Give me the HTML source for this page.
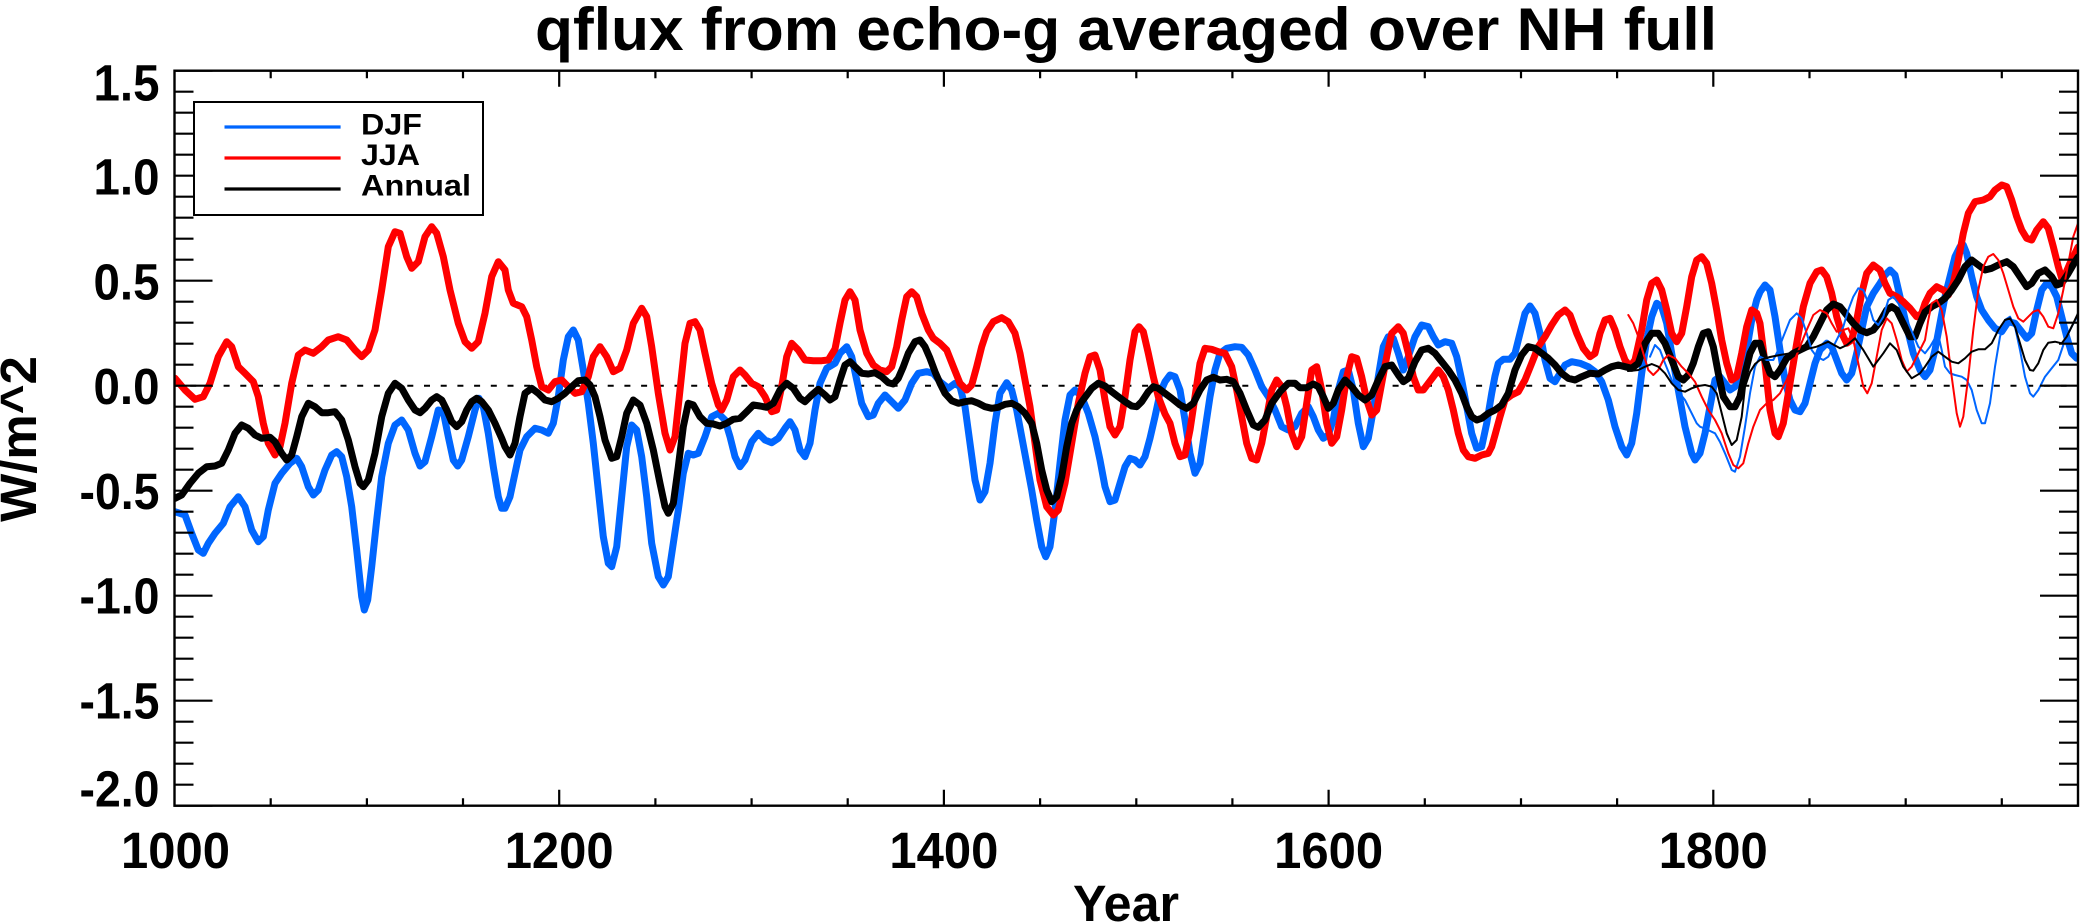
<!DOCTYPE html>
<html><head><meta charset="utf-8"><style>
html,body{margin:0;padding:0;background:#fff;}
svg{display:block;}
text{font-family:"Liberation Sans",Arial,sans-serif;font-weight:bold;fill:#000;}
</style></head><body>
<svg width="2081" height="923" viewBox="0 0 2081 923" xmlns="http://www.w3.org/2000/svg">
<rect x="0" y="0" width="2081" height="923" fill="#fff"/>
<defs><clipPath id="pc"><rect x="174.5" y="70.7" width="1903.5" height="735"/></clipPath></defs>

<!-- title -->
<text x="535" y="50" font-size="60" textLength="1182" lengthAdjust="spacingAndGlyphs">qflux from echo-g averaged over NH full</text>

<!-- zero dashed line -->
<line x1="174.5" y1="385.7" x2="2078" y2="385.7" stroke="#000" stroke-width="2" stroke-dasharray="6,10.7" stroke-dashoffset="1"/>

<g clip-path="url(#pc)" fill="none" stroke-linejoin="round" stroke-linecap="round">
<polyline stroke="#0066ff" stroke-width="7" points="175,511.7 185,515 191.7,533.3 198.3,550 203.3,553.3 208.3,543.3 215,533.3 223.3,523.3 230,506.7 238.3,496.7 245,506.7 251.7,530 258.3,541.7 263.3,536.7 268.3,510 275,483.3 281.7,473.3 290,463.3 296.7,458.3 301.7,466.7 308.3,486.7 313.3,495 318.3,490 325,470 331.7,455 336.7,451.7 341.7,456.7 346.7,476.7 351.7,506.7 356.7,550 361.7,596.7 364.3,610 367.7,600 371.7,566.7 376.7,520 381.7,476.7 388.3,443.3 395,425 401.7,420 408.3,430 415,453.3 420,466 425,461.7 431.7,436.7 438.3,410 443.3,411.7 448.3,436.7 453.3,460 457.7,466 461.7,460 468.3,436.7 475,410 479,398.3 483.3,406.7 488.3,433.3 493.3,466.7 498.3,496.7 501.7,508.3 505,508.3 510,496.7 515,473.3 520,450 526.7,436.7 535,428.3 541.7,430 548.3,433.3 553.3,423.3 558.3,396.7 563.3,360 568.3,336.7 573.3,330 578.3,340 583.3,370 588.3,403.3 593.3,443.3 598.3,490 603.3,536.7 608.3,563.3 611.7,566.7 616.7,546.7 621.7,496.7 626.7,446.7 631.7,425 636.7,430 641.7,456.7 646.7,496.7 651.7,543.3 658.3,576.7 663.3,585 668.3,576.7 673.3,543.3 678.3,510 683.3,473.3 688.3,453.3 693.3,455 698.3,453.3 705,436.7 711.7,416.7 718.3,413.3 725,420 730,436.7 735,456.7 740,466.7 745,460 751.7,441.7 758.3,433.3 765,440 771.7,442.7 778.3,438.3 785,428.3 790,421.7 795,430 800,450 805,456.7 810,443.3 815,410 820,383.3 826.7,368.3 835,363.3 840,353.3 846.7,346.7 851.7,356.7 856.7,380 861.7,403.3 868.3,416.7 873.3,415 878.3,403.3 885,395 891.7,401.7 898.3,408.3 905,400 911.7,383.3 918.3,373.3 926.7,371.7 933.3,373.3 940,381.7 948.3,388.3 955,383.3 960,386.7 965,406.7 970,443.3 975,480 980,500 985,491.7 990,463.3 995,423.3 1000,393.3 1006.7,382.7 1011.7,390 1016.7,410 1021.7,436.7 1026.7,463.3 1031.7,490 1036.7,520 1041.7,546.7 1045.7,556.7 1050,546.7 1055,510 1060,463.3 1065,420 1070,395 1075,390 1081.7,396.7 1088.3,413.3 1095,436.7 1100,460 1105,486.7 1110,501.7 1115,500 1120,483.3 1125,466.7 1130,458.3 1135,460 1140,465 1145,456.7 1150,438.3 1155,416.7 1160,393.3 1165,381.7 1170,375 1175,376.7 1180,390 1185,420 1190,453.3 1195,473.3 1200,463.3 1205,430 1210,396.7 1215,370 1220,353.3 1226.7,348.3 1235,346.7 1241.7,347.3 1248.3,355 1255,370 1261.7,386.7 1268.3,396.7 1275,410 1281.7,426.7 1288.3,430 1295,426.7 1301.7,413.3 1308.3,406.7 1313.3,416.7 1318.3,430 1323.3,438.3 1328.3,435 1333.3,420 1338.3,390 1343.3,371.7 1348.3,370 1353.3,390 1358.3,423.3 1363.3,446.7 1368.3,438.3 1373.3,410 1378.3,376.7 1383.3,346.7 1388.3,336.7 1393.3,338.3 1398.3,353.3 1403.3,370 1408.3,356.7 1415,336.7 1421.7,325 1428.3,326.7 1433.3,336.7 1438.3,345 1445,341.7 1451.7,343.3 1456.7,356.7 1461.7,380 1466.7,406.7 1471.7,433.3 1476.7,448.3 1481.7,446.7 1486.7,423.3 1491.7,393.3 1495,376 1498.3,363.3 1503.3,359.3 1510,359.3 1515,353.3 1520,333.3 1525,313.3 1530,306 1535,313.3 1540,333.3 1545,360 1550,378.3 1555,381.7 1560,373.3 1565,365 1571.7,361.7 1580,363.3 1588.3,366.7 1595,371.7 1601.7,381.7 1608.3,400 1615,426.7 1621.7,446.7 1626.7,455 1631.7,443.3 1636.7,413.3 1641.7,373.3 1646.7,340 1651.7,316.7 1656.7,303.3 1661.7,306.7 1666.7,323.3 1671.7,353.3 1678.3,390 1685,426.7 1691.7,453.3 1695,460 1700,453.3 1705,433.3 1710,406.7 1715,380 1720,376.7 1725,383.3 1730,390 1735,386.7 1741.7,373.3 1746.7,350 1751.7,320 1756.7,300 1760,292 1765,285 1770,290 1775,316.7 1780,350 1785,380 1790,400 1795,410 1800,411.7 1805,403.3 1810,383.3 1815,363.3 1820,350 1826.7,343.3 1831.7,346.7 1836.7,360 1841.7,373.3 1846.7,380 1851.7,373.3 1856.7,353.3 1861.7,330 1866.7,306.7 1873.3,293.3 1880,283.3 1885,275 1890,270 1895,275 1900,296.7 1906.7,326.7 1913.3,353.3 1920,370 1925,376.7 1930,370 1935,350 1940,323.3 1945,296.7 1950,276.7 1955,256.7 1960,246.7 1963.3,245 1966.7,253.3 1971.7,276.7 1976.7,296.7 1981.7,310 1988.3,320 1995,328.3 2001.7,331.7 2008.3,321.7 2015,323.3 2021.7,331.7 2026.7,338.3 2031.7,333.3 2036.7,310 2041.7,290 2046.7,283.3 2051.7,286.7 2056.7,296.7 2061.7,316.7 2066.7,336.7 2071.7,353.3 2076.7,358.3 2078,357"/>
<polyline stroke="#ff0000" stroke-width="7" points="175,378.3 185,390 195,399.3 203.3,396.7 210,383.3 218.3,356.7 226.7,341.7 231.7,346.7 238.3,366.7 245,373.3 253.3,381.7 258.3,396.7 263.3,423.3 268.3,443.3 275,455 280,446.7 285,423.3 291.7,383.3 298.3,355 305,350 313.3,353.3 321.7,346.7 328.3,340 338.3,336.7 346.7,340 355,350 361.7,356.7 368.3,350 375,330 381.7,290 388.3,246.7 395,231.7 400,233.3 406.7,256.7 411.7,268.3 418.3,261.7 425,236.7 431.7,226.7 436.7,233.3 443.3,256.7 450,290 458.3,323.3 465,341.7 471.7,348.3 478.3,341.7 485,313.3 491.7,276.7 498.3,261.7 505,270 508.3,290 513.3,303.3 521.7,306.7 526.7,316.7 531.7,340 536.7,366.7 541.7,386.7 548.3,390 555,381.7 561.7,380 568.3,386.7 575,393.3 581.7,391.7 588.3,376.7 593.3,356.7 600,346.7 606.7,356.7 613.3,371.7 620,368.3 626.7,350 633.3,323.3 641.7,308.3 646.7,316.7 651.7,346.7 658.3,393.3 665,433.3 670,450 675,436.7 680,390 685,343.3 690,323.3 695,321.7 700,330 705,353.3 711.7,383.3 718.3,405 721.7,410 726.7,400 733.3,376.7 740,370 745,375 751.7,383.3 758.3,386.7 765,396.7 771.7,411.7 776.7,410 781.7,386.7 786.7,356.7 791.7,343.3 798.3,350 805,360 813.3,360.7 821.7,360.7 828.3,360 835,349 840,323.3 845,300 850,291.7 855,300 860,330 866.7,353.3 873.3,365 880,370 886.7,371.7 891.7,366.7 896.7,346.7 901.7,320 906.7,296.7 911.7,291.7 916.7,296.7 921.7,313.3 928.3,330 933.3,338.3 940,343.3 946.7,350 953.3,366.7 960,383.3 966.7,390 971.7,385 976.7,366.7 981.7,346.7 986.7,331.7 993.3,321.7 1001.7,317.7 1008.3,321.7 1015,333.3 1020,353.3 1025,380 1030,406.7 1035,443.3 1040,480 1046.7,506.7 1053.3,515 1058.3,510 1065,483.3 1071.7,443.3 1078.3,403.3 1085,373.3 1090,356.7 1095,355 1100,370 1105,400 1110,426.7 1115,435 1120,426.7 1125,396.7 1130,360 1135,331.7 1139,326.7 1143.3,331.7 1148.3,353.3 1153.3,376.7 1158.3,396.7 1165,414 1170,423.3 1175,443.3 1180,456.7 1185,455 1190,430 1195,396.7 1200,363.3 1205,348.3 1211.7,349.3 1218.3,351.7 1225,353.3 1231.7,366.7 1236.7,390 1241.7,416.7 1246.7,443.3 1251.7,458.3 1256.7,460 1261.7,443.3 1266.7,416.7 1271.7,390 1276.7,380 1281.7,386.7 1286.7,406.7 1291.7,433.3 1296.7,446.7 1301.7,436.7 1306.7,403.3 1311.7,370 1316.7,366.7 1321.7,390 1326.7,423.3 1331.7,443.3 1336.7,436.7 1341.7,410 1346.7,376.7 1351.7,356.7 1356.7,358.3 1361.7,376.7 1366.7,400 1371.7,415 1376.7,410 1381.7,383.3 1386.7,356.7 1391.7,333.3 1398.3,326.7 1403.3,333.3 1408.3,353.3 1413.3,376.7 1418.3,390 1423.3,390 1428.3,383.3 1433.3,376.7 1438.3,370 1443.3,376.7 1448.3,390 1453.3,410 1458.3,433.3 1463.3,450 1468.3,456.7 1475,458.3 1481.7,455 1488.3,453.3 1491.7,446.7 1495,435 1500,416.7 1505,400 1511.7,395 1518.3,391.7 1525,380 1531.7,363.3 1538.3,346.7 1545,336.7 1551.7,325 1558.3,315 1565,310 1570,315 1576.7,333.3 1583.3,348.3 1590,356.7 1595,353.3 1600,333.3 1605,320 1610,318.3 1615,330 1620,346.7 1625,360 1630,366.7 1635,360 1641.7,330 1646.7,300 1651.7,283.3 1656.7,280 1661.7,290 1666.7,310 1671.7,333.3 1676.7,341.7 1681.7,333.3 1686.7,306.7 1691.7,276.7 1696.7,260 1701.7,256.7 1706.7,263.3 1711.7,283.3 1716.7,310 1721.7,340 1726.7,363.3 1731.7,380 1736.7,376.7 1741.7,353.3 1746.7,326.7 1751.7,310 1756.7,313.3 1760,323.3 1765,363.3 1770,410 1775,433.3 1778.3,436.7 1783.3,423.3 1790,383.3 1796.7,343.3 1803.3,306.7 1810,283.3 1816.7,271.7 1821.7,270 1826.7,276.7 1831.7,293.3 1836.7,316.7 1841.7,333.3 1846.7,343.3 1851.7,340 1856.7,320 1861.7,293.3 1866.7,273.3 1873.3,265 1880,270 1885,283.3 1890,293.3 1896.7,296.7 1903.3,301.7 1910,308.3 1916.7,316.7 1921.7,313.3 1925,303.3 1930,293.3 1936.7,286.7 1943.3,290 1948.3,295 1953.3,283.3 1958.3,260 1963.3,233.3 1968.3,213.3 1975,201.7 1983.3,200 1990,196.7 1995,190 2001.7,185 2006.7,186.7 2011.7,200 2016.7,216.7 2021.7,230 2026.7,238.3 2031.7,240 2036.7,230 2043.3,221.7 2048.3,228.3 2053.3,246.7 2058.3,266.7 2061.7,278.3 2065,275 2070,263.3 2075,253.3 2078,247"/>
<polyline stroke="#000" stroke-width="7" points="175,498.3 181.7,495 190,483.3 198.3,473.3 206.7,466.7 215,466 221.7,463.3 228.3,450 235,433.3 241.7,425 248.3,428.3 255,435 261.7,438.3 270,437.3 275,441.7 281.7,453.3 286.7,460 291.7,455 296.7,436.7 301.7,416.7 308.3,403.3 315,406.7 321.7,412.7 328.3,412.7 335,411.7 341.7,420 348.3,440 355,466.7 360,483.3 363.3,486.7 368.3,480 375,453.3 381.7,416.7 388.3,393.3 395,383.3 401.7,388.3 408.3,400 415,410 420,412.7 425,408.3 431.7,400 436.7,396.7 441.7,400 446.7,410 451.7,421.7 456.7,426.7 461.7,421.7 466.7,410 471.7,401.7 476.7,398.3 481.7,401.7 488.3,410 495,423.3 501.7,438.3 505,446.7 510,455 515,443.3 520,416.7 525,393.3 531.7,388.3 538.3,393.3 545,400 551.7,401.7 558.3,398.3 565,393.3 571.7,386.7 578.3,380.7 585,380 590,385 595,396.7 600,416.7 605,440 611.7,458.3 616.7,456.7 621.7,436.7 626.7,413.3 633.3,400 640,405 646.7,423.3 653.3,450 660,483.3 665,506.7 668.3,513.3 673.3,503.3 678.3,466.7 683.3,426.7 688.3,403.3 693.3,405 700,416.7 706.7,423.3 713.3,424 720,426 726.7,423.3 733.3,419.3 740,418.3 746.7,411.7 753.3,405 760,406 766.7,407.3 773.3,403.3 780,390 786.7,383.3 793.3,388.3 800,398.3 805,401.7 811.7,395 818.3,389.3 825,395 830,400 835,396.7 840,380 845,365 850,361.7 855,366.7 861.7,373.3 868.3,374 875,372.7 881.7,376.7 888.3,382.7 893.3,384 898.3,378.3 903.3,366.7 908.3,353.3 915,341.7 920,340 925,346.7 930,358.3 935,371.7 940,383.3 945,393.3 951.7,400.7 958.3,403.3 965,401.7 971.7,400.7 978.3,403.3 985,406.7 991.7,408.3 998.3,407.3 1005,404.3 1011.7,403.3 1018.3,406.7 1025,413.3 1031.7,423.3 1036.7,443.3 1041.7,470 1046.7,490 1051.7,501.7 1056.7,496.7 1061.7,476.7 1066.7,446.7 1071.7,423.3 1076.7,410 1081.7,401.7 1086.7,395 1091.7,388.3 1098.3,383.3 1105,386 1111.7,391.7 1118.3,396.7 1125,401.7 1131.7,406 1136.7,406.7 1141.7,401.7 1148.3,391.7 1153.3,386.7 1158.3,388.3 1165,393.3 1171.7,398.3 1180,405 1186.7,408.3 1193.3,403.3 1200,390 1206.7,380 1213.3,377.3 1220,380 1226.7,379.3 1233.3,381.7 1240,393.3 1246.7,410 1253.3,425 1258.3,427.3 1265,420 1271.7,403.3 1280,391.7 1288.3,383.3 1295,383.3 1300,387.7 1306.7,387.7 1313.3,384 1318.3,386.7 1323.3,396.7 1328.3,408.3 1333.3,403.3 1338.3,390 1345,380 1351.7,386.7 1358.3,395 1365,400 1371.7,395 1378.3,380 1385,366.7 1391.7,365 1398.3,375 1403.3,381.7 1408.3,378.3 1415,361.7 1421.7,350 1428.3,348.3 1435,353.3 1441.7,361.7 1448.3,370 1455,380 1461.7,393.3 1466.7,406.7 1471.7,416.7 1476.7,420 1481.7,418.3 1488.3,413.3 1495,410 1501.7,405 1508.3,393.3 1515,370 1521.7,355 1528.3,346.7 1535,348.3 1541.7,353.3 1548.3,358.3 1555,365 1561.7,373.3 1568.3,378.3 1575,380 1581.7,376.7 1590,373.3 1598.3,374 1605,370 1611.7,366.7 1618.3,365 1625,366.7 1631.7,368.3 1638.3,363.3 1645,343.3 1651.7,333.3 1658.3,333.3 1665,343.3 1671.7,360 1678.3,376.7 1683.3,380 1688.3,375 1693.3,363.3 1698.3,346.7 1703.3,333.3 1708.3,331.7 1713.3,346.7 1718.3,373.3 1723.3,396.7 1730,406.7 1735,406.7 1740,396.7 1745,373.3 1750,353.3 1755,343.3 1760,343.3 1765,360 1770,373.3 1775,376.7 1780,370 1786.7,358.3 1793.3,353.3 1800,350 1806.7,346.7 1813.3,336.7 1820,323.3 1826.7,310 1833.3,304 1840,306.7 1846.7,315 1853.3,323.3 1860,330 1866.7,332.7 1873.3,330 1880,321.7 1886.7,310 1891.7,306.7 1896.7,310 1903.3,323.3 1910,336.7 1915,336.7 1920,323.3 1925,312 1931.7,306.7 1938.3,303.3 1945,298.3 1951.7,290 1958.3,280 1965,266.7 1971.7,260 1978.3,265 1985,270 1991.7,268.3 1998.3,265 2006.7,261.7 2013.3,266.7 2020,276.7 2026.7,286.7 2031.7,283.3 2038.3,273.3 2045,270 2051.7,276.7 2056.7,285 2061.7,283.3 2068.3,273.3 2075,261.7 2078,257"/>
<polyline stroke="#0066ff" stroke-width="2" points="1650,356.7 1655,345 1660,350 1665,363.3 1671.7,380 1678.3,391.7 1685,400 1691.7,413.3 1696.7,423.3 1700,426.7 1708,430 1715,433.3 1720,442 1725,453.3 1731.7,470 1735,471.7 1740,456.7 1745,426.7 1750,393.3 1755,366.7 1760,356.7 1766.7,360 1773.3,360 1778.3,350 1783.3,336.7 1790,320 1796.7,313.3 1801.7,318.3 1806.7,333.3 1811.7,350 1816.7,356.7 1823.3,360 1828.3,356.7 1833.3,346.7 1838.3,336.7 1843.3,326.7 1848.3,310 1853.3,296.7 1858.3,288.3 1863.3,290 1868.3,303.3 1873.3,320 1878.3,325 1883.3,316.7 1888.3,300 1893.3,296.7 1898.3,303.3 1903.3,313.3 1908.3,323.3 1913.3,335 1918.3,346.7 1925,353.3 1930,346.7 1935,338.3 1938.3,335 1941.7,350 1945,366.7 1950,373.3 1955,375 1961.7,376.7 1966.7,380 1971.7,390 1976.7,410 1981.7,423.3 1985,423.3 1990,403.3 1995,366.7 2000,336.7 2005,320 2010,316.7 2015,326.7 2020,350 2025,376.7 2030,393.3 2033.3,396.7 2038.3,390 2045,376.7 2051.7,368.3 2058.3,360 2065,340 2071.7,326.7 2078,315"/>
<polyline stroke="#ff0000" stroke-width="2" points="1628.3,315 1633.3,323.3 1638.3,336.7 1643.3,353.3 1648.3,370 1653.3,375 1658.3,370 1663.3,360 1668.3,355 1675,358.3 1681.7,366.7 1688.3,373.3 1695,381.7 1701.7,396.7 1708.3,410 1715,420 1721.7,433.3 1728.3,453.3 1733.3,465 1738.3,468.3 1743.3,463.3 1748.3,443.3 1753.3,426.7 1760,410 1766.7,403.3 1773.3,400 1780,393.3 1786.7,380 1793.3,363.3 1800,346.7 1806.7,330 1813.3,315 1820,310 1826.7,313.3 1831.7,323.3 1836.7,331.7 1843.3,330 1848.3,328.3 1853.3,340 1858.3,363.3 1863.3,386.7 1867.3,393.3 1871.7,383.3 1876.7,356.7 1881.7,330 1886.7,318.3 1891.7,323.3 1896.7,340 1901.7,360 1906.7,371.7 1911.7,366.7 1918.3,353.3 1925,340 1928.3,320 1931.7,303.3 1936.7,300 1941.7,310 1946.7,336.7 1951.7,376.7 1956.7,413.3 1960,426.7 1963.3,416.7 1968.3,376.7 1973.3,330 1978.3,290 1983.3,266.7 1988.3,256.7 1993.3,254 1998.3,260 2003.3,273.3 2008.3,290 2013.3,306.7 2018.3,318.3 2023.3,321.7 2028.3,316.7 2033.3,311.7 2038.3,310 2043.3,316.7 2048.3,326.7 2053.3,328.3 2058.3,313.3 2063.3,290 2068.3,263.3 2073.3,236.7 2078,223.3"/>
<polyline stroke="#000" stroke-width="2" points="1628,371 1631.7,370.7 1638.3,370 1645,366.7 1651.7,364 1658.3,366.7 1665,373.3 1671.7,383.3 1678.3,390 1685,391.7 1691.7,388.3 1698.3,386 1705,385 1711.7,386.7 1716.7,393.3 1721.7,413.3 1726.7,433.3 1731.7,445 1736.7,440 1741.7,416.7 1745,386.7 1750,372 1755,364 1760,360 1770,357 1780,355 1790,353.3 1803.3,350 1816.7,346.7 1828.3,341.7 1840,348.3 1847,345 1855,338.3 1863.3,350 1873.3,366.7 1883.3,353.3 1890,343.3 1896.7,350 1903.3,366.7 1911.7,378.3 1920,373.3 1925,366.7 1931.7,356.7 1938.3,351.7 1945,356.7 1951.7,361.7 1958.3,363.3 1965,358.3 1971.7,351.7 1978.3,349.3 1985,349.3 1991.7,343.3 1998.3,330 2005,320 2010,318.3 2015,326.7 2020,343.3 2025,360 2030,370 2033.3,370.7 2038.3,363.3 2043.3,350 2048.3,342.7 2055,341.7 2061.7,343.3 2066.7,336.7 2073.3,323.3 2078,313.3"/>
</g>

<!-- axes box -->
<rect x="174.5" y="70.7" width="1903.5" height="735" fill="none" stroke="#000" stroke-width="2.4"/>

<!-- y ticks left & right -->
<path stroke="#000" stroke-width="2.2" fill="none" d="
M174.5 70.7h38 M174.5 91.7h19 M174.5 112.7h19 M174.5 133.7h19 M174.5 154.7h19
M174.5 175.7h38 M174.5 196.7h19 M174.5 217.7h19 M174.5 238.7h19 M174.5 259.7h19
M174.5 280.7h38 M174.5 301.7h19 M174.5 322.7h19 M174.5 343.7h19 M174.5 364.7h19
M174.5 385.7h38 M174.5 406.7h19 M174.5 427.7h19 M174.5 448.7h19 M174.5 469.7h19
M174.5 490.7h38 M174.5 511.7h19 M174.5 532.7h19 M174.5 553.7h19 M174.5 574.7h19
M174.5 595.7h38 M174.5 616.7h19 M174.5 637.7h19 M174.5 658.7h19 M174.5 679.7h19
M174.5 700.7h38 M174.5 721.7h19 M174.5 742.7h19 M174.5 763.7h19 M174.5 784.7h19
M174.5 805.7h38
M2078 70.7h-38 M2078 91.7h-19 M2078 112.7h-19 M2078 133.7h-19 M2078 154.7h-19
M2078 175.7h-38 M2078 196.7h-19 M2078 217.7h-19 M2078 238.7h-19 M2078 259.7h-19
M2078 280.7h-38 M2078 301.7h-19 M2078 322.7h-19 M2078 343.7h-19 M2078 364.7h-19
M2078 385.7h-38 M2078 406.7h-19 M2078 427.7h-19 M2078 448.7h-19 M2078 469.7h-19
M2078 490.7h-38 M2078 511.7h-19 M2078 532.7h-19 M2078 553.7h-19 M2078 574.7h-19
M2078 595.7h-38 M2078 616.7h-19 M2078 637.7h-19 M2078 658.7h-19 M2078 679.7h-19
M2078 700.7h-38 M2078 721.7h-19 M2078 742.7h-19 M2078 763.7h-19 M2078 784.7h-19
M2078 805.7h-38
"/>
<!-- x ticks bottom & top -->
<path stroke="#000" stroke-width="2.2" fill="none" d="
M270.7 805.7v-7.5 M366.9 805.7v-7.5 M463 805.7v-7.5 M559.2 805.7v-16 M655.4 805.7v-7.5 M751.6 805.7v-7.5 M847.7 805.7v-7.5 M943.9 805.7v-16 M1040.1 805.7v-7.5 M1136.3 805.7v-7.5 M1232.4 805.7v-7.5 M1328.6 805.7v-16 M1424.8 805.7v-7.5 M1521 805.7v-7.5 M1617.1 805.7v-7.5 M1713.3 805.7v-16 M1809.5 805.7v-7.5 M1905.7 805.7v-7.5 M2001.8 805.7v-7.5
M270.7 70.7v7.5 M366.9 70.7v7.5 M463 70.7v7.5 M559.2 70.7v16 M655.4 70.7v7.5 M751.6 70.7v7.5 M847.7 70.7v7.5 M943.9 70.7v16 M1040.1 70.7v7.5 M1136.3 70.7v7.5 M1232.4 70.7v7.5 M1328.6 70.7v16 M1424.8 70.7v7.5 M1521 70.7v7.5 M1617.1 70.7v7.5 M1713.3 70.7v16 M1809.5 70.7v7.5 M1905.7 70.7v7.5 M2001.8 70.7v7.5
"/>

<!-- y tick labels -->
<g font-size="51" text-anchor="end">
<text x="159.5" y="100.5" textLength="66" lengthAdjust="spacingAndGlyphs">1.5</text>
<text x="159.5" y="194.5" textLength="66" lengthAdjust="spacingAndGlyphs">1.0</text>
<text x="159.5" y="299.5" textLength="66" lengthAdjust="spacingAndGlyphs">0.5</text>
<text x="159.5" y="404" textLength="66" lengthAdjust="spacingAndGlyphs">0.0</text>
<text x="159.5" y="509" textLength="80" lengthAdjust="spacingAndGlyphs">-0.5</text>
<text x="159.5" y="613.5" textLength="80" lengthAdjust="spacingAndGlyphs">-1.0</text>
<text x="159.5" y="718.5" textLength="80" lengthAdjust="spacingAndGlyphs">-1.5</text>
<text x="159.5" y="806.5" textLength="80" lengthAdjust="spacingAndGlyphs">-2.0</text>
</g>
<!-- x tick labels -->
<g font-size="51">
<text x="121" y="868" textLength="109" lengthAdjust="spacingAndGlyphs">1000</text>
<text x="504.7" y="868" textLength="109" lengthAdjust="spacingAndGlyphs">1200</text>
<text x="889.4" y="868" textLength="109" lengthAdjust="spacingAndGlyphs">1400</text>
<text x="1274.1" y="868" textLength="109" lengthAdjust="spacingAndGlyphs">1600</text>
<text x="1658.8" y="868" textLength="109" lengthAdjust="spacingAndGlyphs">1800</text>
<text x="1073" y="921" textLength="106" lengthAdjust="spacingAndGlyphs">Year</text>
</g>
<text font-size="51" text-anchor="middle" transform="translate(36,439) rotate(-90)">W/m^2</text>

<!-- legend -->
<rect x="194" y="102" width="289" height="113" fill="#fff" stroke="#000" stroke-width="2"/>
<line x1="224.5" y1="127" x2="340.6" y2="127" stroke="#0066ff" stroke-width="3.2"/>
<line x1="224.5" y1="158" x2="340.6" y2="158" stroke="#ff0000" stroke-width="3.2"/>
<line x1="224.5" y1="189" x2="340.6" y2="189" stroke="#000" stroke-width="3.2"/>
<text x="361" y="134.3" font-size="30" textLength="61" lengthAdjust="spacingAndGlyphs">DJF</text>
<text x="361" y="165" font-size="30" textLength="59" lengthAdjust="spacingAndGlyphs">JJA</text>
<text x="361" y="195.5" font-size="30" textLength="110" lengthAdjust="spacingAndGlyphs">Annual</text>
</svg>
</body></html>
